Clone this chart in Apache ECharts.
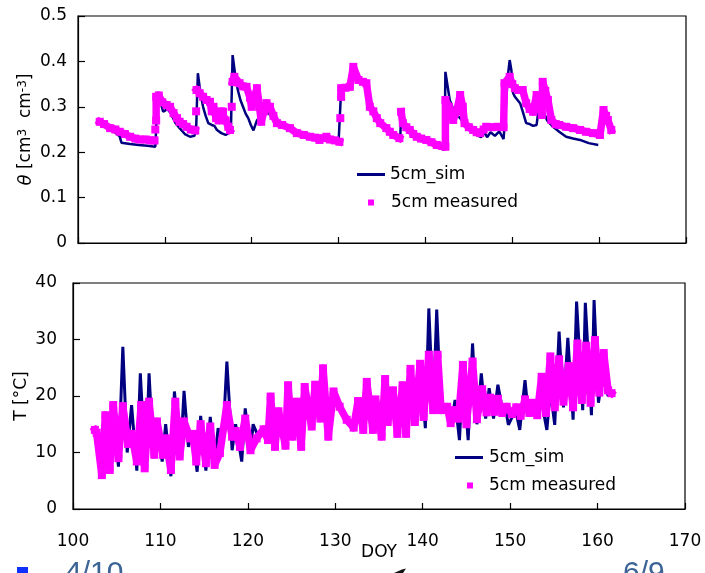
<!DOCTYPE html>
<html><head><meta charset="utf-8">
<script src="https://cdn.jsdelivr.net/npm/echarts@6/dist/echarts.min.js"></script>
<style>html,body{margin:0;padding:0;background:#fff}#c{width:705px;height:573px}</style>
</head><body><div id="c"></div>
<script>
const xTicks = [100, 110, 120, 130, 140, 150, 160, 170];
const thetaTicks = [0, 0.1, 0.2, 0.3, 0.4, 0.5];
const tempTicks = [0, 10, 20, 30, 40];

const thetaSim = [
[102.5,0.265],[103.7,0.252],[104.8,0.235],[105.0,0.221],[106.0,0.218],[107.0,0.216],[108.0,0.214],[108.9,0.212],
[109.2,0.333],[109.5,0.31],[109.8,0.289],[110.3,0.295],[110.7,0.285],[111.2,0.265],[111.7,0.253],[112.3,0.24],
[112.9,0.234],[113.4,0.236],[113.6,0.25],[113.8,0.374],[114.1,0.33],[114.4,0.30],[114.7,0.28],[115.0,0.264],
[115.4,0.26],[115.7,0.258],[116.0,0.249],[116.5,0.242],[117.0,0.238],[117.6,0.245],[117.8,0.414],[118.1,0.37],
[118.4,0.337],[118.7,0.315],[119.0,0.300],[119.3,0.285],[119.6,0.275],[119.9,0.26],[120.2,0.248],[120.6,0.27],
[121.0,0.28],[121.5,0.29],[122.0,0.285],[122.5,0.27],[123.0,0.262],[124.0,0.252],[125.0,0.243],[126.0,0.237],
[127.0,0.233],[128.0,0.229],[129.0,0.226],[130.0,0.222],[130.3,0.34],[131.0,0.345],[131.7,0.38],[132.3,0.358],
[133.2,0.348],[133.6,0.30],[134.4,0.272],[135.5,0.25],[136.3,0.237],[137.1,0.23],[137.2,0.285],[137.4,0.262],
[138.2,0.247],[139.0,0.232],[140.1,0.222],[141.0,0.214],[141.8,0.208],[142.2,0.205],[142.3,0.377],[142.8,0.315],
[143.4,0.285],[144.0,0.275],[144.5,0.262],[145.0,0.25],[145.5,0.243],[146.0,0.237],[146.4,0.233],[146.8,0.243],
[147.1,0.233],[147.5,0.244],[148.0,0.236],[148.5,0.246],[149.0,0.229],[149.5,0.37],[149.7,0.403],[149.9,0.38],
[150.1,0.33],[150.3,0.322],[150.6,0.315],[150.9,0.308],[151.2,0.29],[151.6,0.264],[152.0,0.262],[152.4,0.258],
[152.8,0.26],[153.0,0.29],[153.3,0.31],[153.6,0.29],[154.0,0.27],[154.7,0.256],[155.4,0.245],[156.2,0.234],
[157.0,0.230],[157.8,0.227],[158.8,0.220],[159.9,0.216]
];

const thetaMeas = [
[102.5,0.267],[103.0,0.262],[103.7,0.253],[104.3,0.25],[104.8,0.245],[105.4,0.240],[106.0,0.234],[106.6,0.230],
[107.1,0.228],[107.8,0.228],[108.3,0.226],[108.8,0.226],[108.85,null],[108.9,0.25],[108.95,null],[109.0,0.27],[109.0,0.322],
[109.3,0.325],[109.7,0.31],[110.2,0.304],[110.6,0.30],[111.0,0.286],[111.4,0.275],[111.7,0.267],[112.1,0.262],
[112.5,0.256],[113.0,0.25],[113.5,0.248],[113.55,null],[113.6,0.29],[113.62,null],[113.65,0.337],[114.0,0.33],[114.4,0.322],
[114.8,0.315],[115.2,0.311],[115.4,0.29],[115.6,0.30],[115.9,0.275],[116.2,0.27],[116.5,0.29],[116.7,0.289],
[117.0,0.27],[117.3,0.256],[117.5,0.249],[117.6,null],[117.7,0.30],[117.75,null],[117.8,0.355],[118.0,0.366],[118.6,0.352],
[119.0,0.345],[119.4,0.344],[119.8,0.32],[120.0,0.30],[120.3,0.32],[120.6,0.341],[120.9,0.30],[121.1,0.267],
[121.4,0.29],[121.7,0.308],[122.1,0.30],[122.5,0.28],[122.9,0.264],[123.5,0.26],[124.4,0.253],[125.2,0.242],
[126.0,0.238],[126.7,0.234],[127.3,0.232],[127.8,0.227],[128.2,0.231],[128.6,0.234],[129.0,0.228],[129.6,0.226],
[130.1,0.223],[130.15,null],[130.2,0.275],[130.25,null],[130.3,0.322],[130.3,0.341],[130.8,0.342],[131.3,0.344],
[131.7,0.388],[132.3,0.359],[132.8,0.355],[133.2,0.352],[133.6,0.300],[134.0,0.29],[134.4,0.275],[134.8,0.264],
[135.5,0.253],[135.9,0.245],[136.3,0.238],[137.0,0.231],[137.1,null],[137.2,0.289],[137.4,0.264],[137.8,0.255],
[138.2,0.249],[138.6,0.24],[139.0,0.234],[139.5,0.23],[140.1,0.227],[140.7,0.222],[141.3,0.216],[141.9,0.214],
[142.3,0.212],[142.3,0.315],[142.7,0.30],[143.2,0.271],[143.6,0.29],[144.0,0.326],[144.3,0.30],[144.5,0.264],
[145.0,0.255],[145.5,0.249],[145.9,0.244],[146.3,0.242],[146.7,0.25],[147.0,0.256],[147.6,0.255],[148.3,0.256],
[149.0,0.255],[149.1,0.352],[149.7,0.366],[150.0,0.35],[150.3,0.341],[150.7,0.337],[151.2,0.337],[151.6,0.308],
[152.0,0.295],[152.4,0.289],[152.8,0.326],[153.1,0.30],[153.4,0.282],[153.5,0.355],[153.8,0.335],[154.1,0.315],
[154.5,0.271],[155.0,0.262],[155.4,0.26],[156.2,0.256],[157.0,0.253],[157.8,0.249],[158.5,0.245],[159.3,0.242],
[160.1,0.238],[160.5,0.293],[160.8,0.28],[161.0,0.271],[161.4,0.249]
];

const tempSim = [
[102.5,13.5],[103.3,6.5],[103.7,15.8],[104.2,7.5],[104.6,16.5],[105.2,7.5],[105.7,28.7],[106.2,10.0],[106.7,18.4],
[107.3,6.8],[107.7,24.0],[108.3,6.7],[108.7,24.0],[109.2,9.0],[109.6,16.0],[110.2,8.4],[110.6,15.0],[111.2,5.8],
[111.6,20.8],[112.3,9.4],[112.7,20.9],[113.2,11.0],[113.6,13.7],[114.2,6.6],[114.6,16.5],[115.2,6.8],[115.7,16.3],
[116.2,8.5],[116.6,14.3],[117.1,11.0],[117.6,26.1],[118.2,10.4],[118.6,15.0],[119.3,8.4],[119.7,17.8],[120.3,9.9],
[120.6,15.0],[121.2,12.8],[121.8,14.5],[122.3,11.8],[122.6,20.5],[123.1,10.5],[123.5,17.8],[124.3,10.8],[124.6,22.4],
[125.1,12.3],[125.6,19.5],[126.1,10.5],[126.5,22.0],[127.3,14.1],[127.7,22.5],[128.3,15.5],[128.6,25.4],[129.2,12.3],
[129.8,21.2],[130.5,17.6],[131.3,15.3],[132.1,13.9],[132.6,19.6],[133.2,13.5],[133.6,23.0],[134.3,13.5],[134.6,19.9],
[135.3,12.3],[135.7,23.5],[136.0,14.9],[136.6,21.5],[137.1,12.8],[137.7,22.4],[138.1,12.8],[138.6,25.3],[139.1,14.9],
[139.7,26.2],[140.3,14.3],[140.7,35.5],[141.2,17.0],[141.6,35.3],[142.1,17.0],[142.8,17.5],[143.3,15.5],[143.7,19.3],
[144.2,12.2],[144.6,24.0],[145.2,12.2],[145.7,29.3],[146.2,15.0],[146.7,24.0],[147.2,16.0],[147.6,21.4],[148.1,16.0],
[148.6,22.0],[149.2,17.0],[149.5,17.5],[149.8,14.9],[150.3,16.5],[150.7,17.0],[151.1,14.0],[151.7,22.8],[152.1,16.5],
[152.7,19.0],[153.1,16.0],[153.6,19.0],[154.2,14.0],[154.6,21.0],[155.1,14.9],[155.6,31.4],[156.1,18.0],[156.6,30.3],
[157.2,15.8],[157.6,36.7],[158.3,17.5],[158.6,36.5],[159.3,16.6],[159.6,37.0],[160.1,18.8],[160.7,25.0],[161.2,20.0],
[161.6,20.5]
];

const tempMeas = [
[102.5,14.0],[102.7,13.5],[103.3,6.0],[103.7,16.6],[104.2,6.9],[104.6,18.4],[105.2,9.0],[105.7,18.2],[106.3,11.5],
[106.7,13.3],[107.3,8.4],[107.8,18.4],[108.2,7.2],[108.7,19.0],[109.3,9.6],[109.6,15.5],[110.3,9.6],[110.6,12.5],
[111.2,6.9],[111.7,19.0],[112.2,9.3],[112.7,15.5],[113.4,12.5],[113.7,13.3],[114.1,8.4],[114.6,15.0],[115.2,8.1],
[115.7,14.6],[116.2,7.8],[116.8,9.9],[117.6,18.4],[118.2,12.8],[118.6,13.8],[119.1,11.0],[119.7,16.0],[120.3,10.4],
[121.0,12.5],[121.8,14.1],[122.3,12.2],[122.6,19.9],[123.1,11.0],[123.5,17.3],[124.3,11.2],[124.6,21.9],[125.1,12.8],
[125.6,19.0],[126.1,11.0],[126.5,21.6],[127.3,14.6],[127.7,22.0],[128.3,16.0],[128.6,24.9],[129.2,12.8],[129.8,20.8],
[130.5,18.1],[131.3,15.8],[132.1,14.4],[132.6,19.1],[133.2,14.0],[133.6,22.5],[134.3,14.0],[134.6,19.4],[135.3,12.8],
[135.7,23.0],[136.0,15.4],[136.6,21.0],[137.1,13.3],[137.7,21.9],[138.1,13.3],[138.6,24.8],[139.1,15.4],[139.7,25.7],
[140.1,16.3],[140.7,27.3],[141.2,17.5],[141.7,27.3],[142.1,17.5],[142.8,18.1],[143.2,15.2],[143.6,17.5],[144.1,16.0],
[144.6,25.5],[145.0,15.0],[145.7,26.1],[146.2,15.9],[146.8,21.2],[147.3,17.1],[147.7,19.7],[148.2,17.2],[148.6,19.5],
[149.1,17.0],[149.6,18.1],[150.2,16.8],[150.7,18.0],[151.2,16.5],[151.7,19.4],[152.2,17.0],[152.6,18.8],[153.1,16.6],
[153.6,23.4],[154.1,17.0],[154.6,27.0],[155.1,18.0],[155.6,26.5],[156.1,19.0],[156.7,25.3],[157.2,18.0],[157.7,29.3],
[158.2,19.3],[158.7,28.9],[159.2,18.8],[159.7,29.9],[160.2,20.6],[160.7,27.6],[161.2,21.0],[161.6,20.5]
];

const FONT = "'DejaVu Sans', 'Liberation Sans', sans-serif";
const FS = 17;
const SIM_COLOR = '#000080';
const MEAS_COLOR = '#ff00ff';

const chart = echarts.init(document.getElementById('c'), null, {renderer: 'canvas'});

function xAxisCfg(grid, showLabels) {
  return {
    gridIndex: grid, type: 'value', min: xTicks[0], max: xTicks[xTicks.length - 1], interval: 10,
    axisLine: {show: true, lineStyle: {color: '#000', width: 1.2}},
    axisTick: {show: true, inside: true, length: 6, lineStyle: {color: '#000', width: 1.2}},
    axisLabel: {show: showLabels, margin: 24, fontSize: FS, color: '#000', fontFamily: FONT},
    splitLine: {show: false}
  };
}

const option = {
  animation: false,
  backgroundColor: '#fff',
  textStyle: {fontFamily: FONT},
  grid: [
    {left: 78, top: 16, width: 608, height: 227, show: true, borderColor: '#000', borderWidth: 1.2, backgroundColor: 'transparent'},
    {left: 73, top: 283, width: 612, height: 226, show: true, borderColor: '#000', borderWidth: 1.2, backgroundColor: 'transparent'}
  ],
  xAxis: [
    xAxisCfg(0, false),
    Object.assign(xAxisCfg(1, true), {
      name: 'DOY', nameLocation: 'middle', nameGap: 35, nameMoveOverlap: false,
      nameTextStyle: {fontSize: FS, color: '#000', fontFamily: FONT}
    })
  ],
  yAxis: [
    {
      gridIndex: 0, type: 'value', min: thetaTicks[0], max: thetaTicks[thetaTicks.length - 1], interval: 0.1,
      axisLine: {show: true, lineStyle: {color: '#000', width: 1.2}},
      axisTick: {show: true, inside: true, length: 7, lineStyle: {color: '#000', width: 1.2}},
      axisLabel: {margin: 11, fontSize: FS, color: '#000', fontFamily: FONT},
      splitLine: {show: false},
      name: '{i|θ} [cm{s|3}  cm{s|-3}]', nameLocation: 'middle', nameGap: 43, nameRotate: 90, nameMoveOverlap: false,
      nameTextStyle: {
        fontSize: FS, color: '#000', fontFamily: FONT,
        rich: {
          i: {fontSize: 18, fontStyle: 'italic', color: '#000', fontFamily: FONT},
          s: {fontSize: 12, verticalAlign: 'top', lineHeight: 12, color: '#000', fontFamily: FONT}
        }
      }
    },
    {
      gridIndex: 1, type: 'value', min: tempTicks[0], max: tempTicks[tempTicks.length - 1], interval: 10,
      axisLine: {show: true, lineStyle: {color: '#000', width: 1.2}},
      axisTick: {show: true, inside: true, length: 7, lineStyle: {color: '#000', width: 1.2}},
      axisLabel: {margin: 16, fontSize: FS, color: '#000', fontFamily: FONT},
      splitLine: {show: false},
      name: 'T [°C]', nameLocation: 'middle', nameGap: 43, nameRotate: 90, nameMoveOverlap: false,
      nameTextStyle: {fontSize: FS, color: '#000', fontFamily: FONT}
    }
  ],
  legend: [
    {data: [{name: '5cm_sim', icon: 'rect'}], left: 357, top: 166, padding: 0, itemWidth: 28, itemHeight: 3,
     selectedMode: false, textStyle: {fontSize: FS, color: '#000', fontFamily: FONT}},
    {data: [{name: '5cm measured', icon: 'rect'}], left: 368, top: 194, padding: 0, itemWidth: 6, itemHeight: 6,
     selectedMode: false, textStyle: {fontSize: FS, color: '#000', fontFamily: FONT, padding: [0, 0, 0, 12]}},
    {data: [{name: '5cm_sim', icon: 'rect'}], left: 455, top: 449, padding: 0, itemWidth: 28, itemHeight: 3,
     selectedMode: false, textStyle: {fontSize: FS, color: '#000', fontFamily: FONT, padding: [0, 0, 0, 1]}},
    {data: [{name: '5cm measured', icon: 'rect'}], left: 467, top: 477, padding: 0, itemWidth: 6, itemHeight: 6,
     selectedMode: false, textStyle: {fontSize: FS, color: '#000', fontFamily: FONT, padding: [0, 0, 0, 11]}}
  ],
  series: [
    {type: 'line', name: '5cm_sim', xAxisIndex: 0, yAxisIndex: 0, data: thetaSim, showSymbol: false,
     lineStyle: {color: SIM_COLOR, width: 2.5}, itemStyle: {color: SIM_COLOR}},
    {type: 'line', name: '5cm measured', xAxisIndex: 0, yAxisIndex: 0, data: thetaMeas, connectNulls: false,
     symbol: 'rect', symbolSize: 8, showSymbol: true, showAllSymbol: true,
     lineStyle: {color: MEAS_COLOR, width: 7.5, join: 'round', cap: 'square'}, itemStyle: {color: MEAS_COLOR}},
    {type: 'line', name: '5cm_sim', xAxisIndex: 1, yAxisIndex: 1, data: tempSim, showSymbol: false,
     lineStyle: {color: SIM_COLOR, width: 3}, itemStyle: {color: SIM_COLOR}},
    {type: 'line', name: '5cm measured', xAxisIndex: 1, yAxisIndex: 1, data: tempMeas, connectNulls: false,
     symbol: 'rect', symbolSize: 8, showSymbol: true, showAllSymbol: true,
     lineStyle: {color: MEAS_COLOR, width: 7.5, join: 'round', cap: 'square'}, itemStyle: {color: MEAS_COLOR}}
  ],
  graphic: [
    {type: 'rect', shape: {x: 17, y: 567, width: 11, height: 6}, style: {fill: '#1030ff'}},
    {type: 'text', x: 65, y: 573.5, style: {text: '4/10', font: "30px 'Liberation Sans', Arial, sans-serif",
      fill: '#3b6395', textVerticalAlign: 'middle', verticalAlign: 'middle'}},
    {type: 'polygon', shape: {points: [[394, 573], [402, 569.5], [406, 568.5], [403, 573]]}, style: {fill: '#111'}},
    {type: 'text', x: 623, y: 573.5, style: {text: '6/9', font: "30px 'Liberation Sans', Arial, sans-serif",
      fill: '#3b6395', textVerticalAlign: 'middle', verticalAlign: 'middle'}}
  ]
};
chart.setOption(option);
</script>
</body></html>
